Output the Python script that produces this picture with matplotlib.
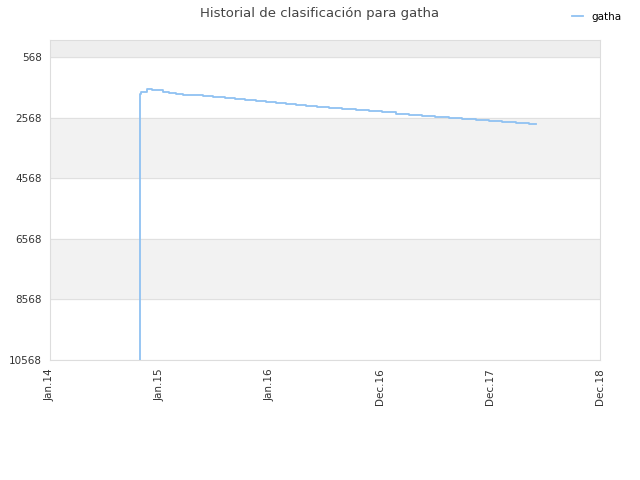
import pandas as pd
import matplotlib
matplotlib.use('Agg')
from matplotlib import pyplot as plt
import matplotlib.dates as mdates

# rank history for gatha
dates = ['2014-10-26', '2014-10-28', '2014-10-30', '2014-11-18', '2014-12-05',
         '2014-12-22', '2015-01-11', '2015-01-31', '2015-02-23', '2015-03-18',
         '2015-04-20', '2015-05-23', '2015-06-25', '2015-08-04', '2015-09-06',
         '2015-10-09', '2015-11-15', '2015-12-18', '2016-01-20', '2016-02-22',
         '2016-03-26', '2016-04-28', '2016-06-04', '2016-07-14', '2016-08-26',
         '2016-10-12', '2016-11-24', '2017-01-06', '2017-02-22', '2017-04-06',
         '2017-05-19', '2017-07-01', '2017-08-17', '2017-09-29', '2017-11-14',
         '2017-12-27', '2018-02-09', '2018-03-27', '2018-05-09', '2018-06-01']
ranks = [10568, 1781, 1716, 1617, 1650,
         1673, 1716, 1758, 1791, 1814,
         1837, 1857, 1896, 1922, 1955,
         1988, 2021, 2044, 2077, 2109,
         2142, 2175, 2224, 2263, 2296,
         2332, 2362, 2401, 2440, 2473,
         2506, 2535, 2568, 2601, 2634,
         2667, 2700, 2732, 2765, 2765]

ytick_values = [568, 2568, 4568, 6568, 8568, 10568]
xtick_dates = ['2014-01-01', '2015-01-01', '2016-01-01', '2016-12-31', '2017-12-31', '2018-12-31']
xtick_labels = ['Jan.14', 'Jan.15', 'Jan.16', 'Dec.16', 'Dec.17', 'Dec.18']

df = pd.DataFrame({'date': pd.to_datetime(dates), 'rank': ranks})

fig = plt.figure(figsize=(6.4, 4.8), dpi=100)
ax = fig.add_axes([50/640, 120/480, 550/640, 320/480])

# background bands
ax.axhspan(0, 568, color='#eeeeee', zorder=0)
ax.axhspan(2568, 4568, color='#f2f2f2', zorder=0)
ax.axhspan(6568, 8568, color='#f2f2f2', zorder=0)
for v in ytick_values:
    ax.axhline(v, color='#e0e0e0', lw=0.8, zorder=1)

ax.plot(df['date'], df['rank'], drawstyle='steps-post', color='#90c2f2', lw=1.3,
        label='gatha', zorder=3)

ax.set_ylim(10568, 10)
ax.set_xlim(pd.Timestamp('2014-01-01'), pd.Timestamp('2018-12-31'))
ax.set_yticks(ytick_values)
ax.set_yticklabels([str(v) for v in ytick_values])
ax.set_xticks(pd.to_datetime(xtick_dates))
ax.set_xticklabels(xtick_labels, rotation=90)
ax.tick_params(length=0, labelsize=7.5, labelcolor='#333333', pad=6)

for s in ax.spines.values():
    s.set_color('#dddddd')

fig.suptitle('Historial de clasificación para gatha', fontsize=9.5, color='#444444', y=0.985)
fig.legend(loc='upper right', bbox_to_anchor=(0.985, 0.995), frameon=False,
           fontsize=7.5, handlelength=1.0)

fig.savefig('out.png', dpi=100)
